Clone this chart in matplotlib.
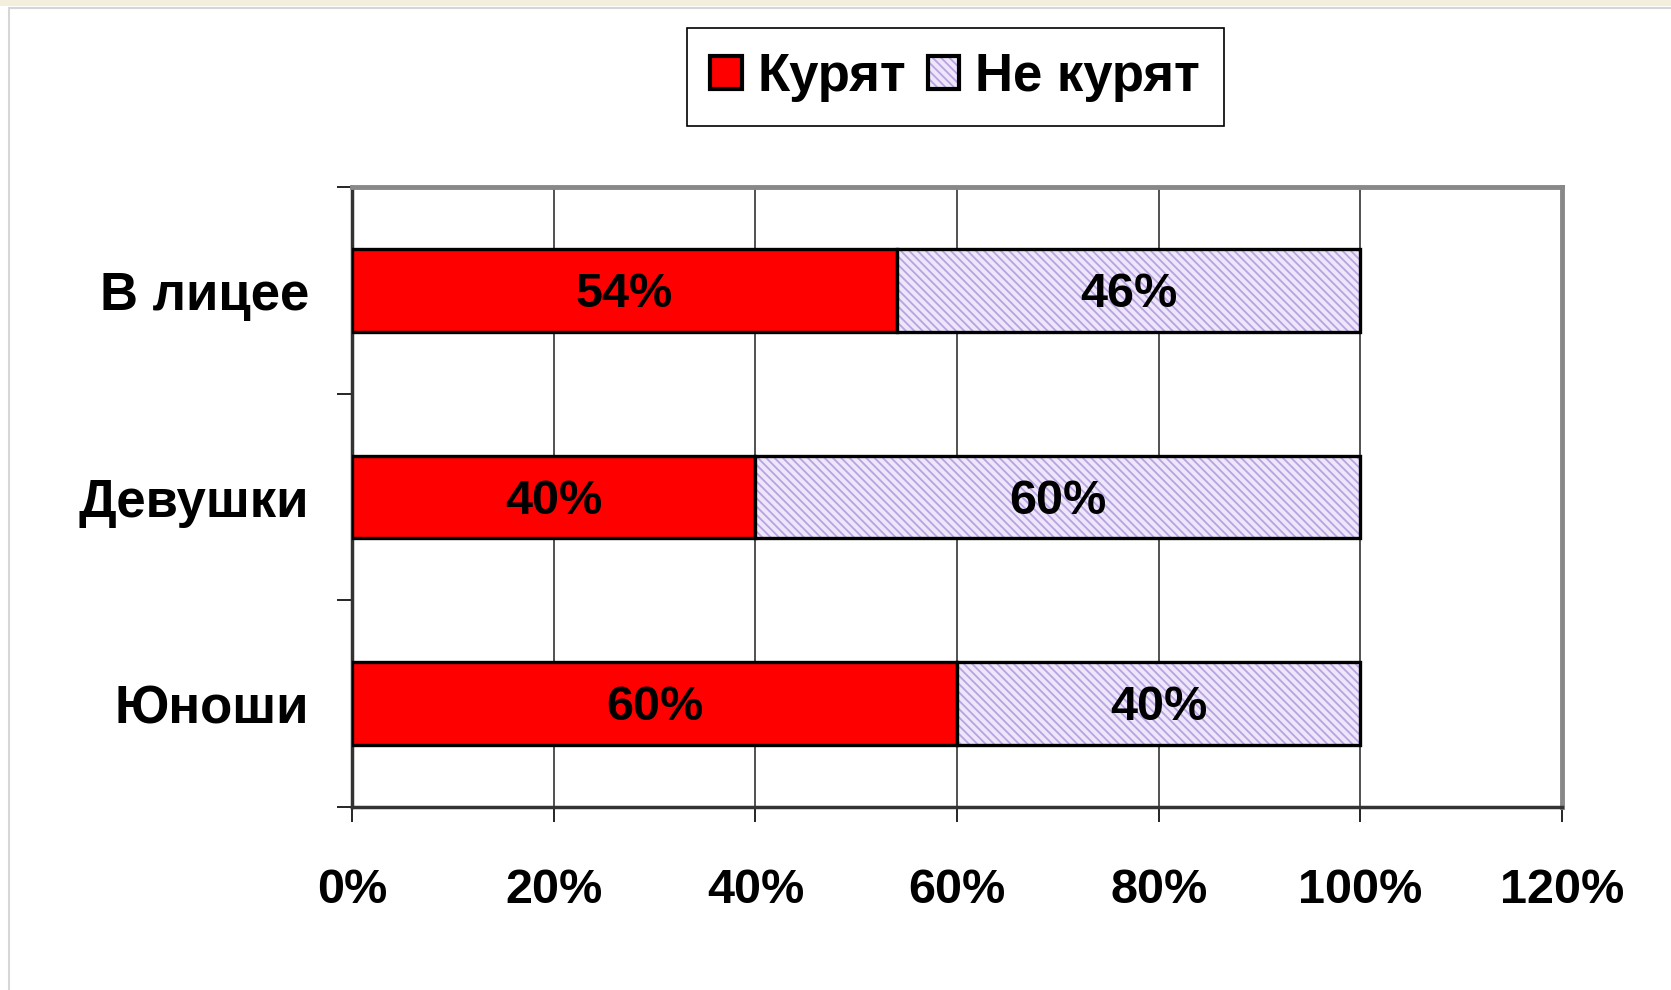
import numpy as np
import matplotlib
matplotlib.use("Agg")
import matplotlib.pyplot as plt
from matplotlib.patches import Patch, Rectangle
from matplotlib.legend_handler import HandlerTuple
from matplotlib.ticker import FixedLocator

plt.rcParams["font.family"] = ["Liberation Sans", "DejaVu Sans"]
plt.rcParams["font.weight"] = "bold"
plt.rcParams["hatch.linewidth"] = 1.3

# --- данные ---
categories = ["Юноши", "Девушки", "В лицее"]
smoke = [60, 40, 54]
no_smoke = [40, 60, 46]
x_ticks = [0, 20, 40, 60, 80, 100, 120]
series_names = ["Курят", "Не курят"]

red = "#FF0000"
lilac = "#EEE6FA"
lilac_hatch = "#B8A2E0"

fig = plt.figure(figsize=(16.71, 9.9), dpi=100)
ax = fig.add_axes([0.2107, 0.1848, 0.7241, 0.6263])

y = np.arange(len(categories))
h = 0.40

b1 = ax.barh(y, smoke, h, color=red, edgecolor="black", linewidth=2.4, zorder=3)
b2 = ax.barh(y, no_smoke, h, left=smoke, color=lilac, edgecolor=lilac_hatch,
             hatch="\\\\\\\\", linewidth=0, zorder=3)
b3 = ax.barh(y, no_smoke, h, left=smoke, facecolor="none", edgecolor="black",
             linewidth=2.4, zorder=4)

# подписи значений
for i in range(len(categories)):
    ax.annotate(f"{smoke[i]}%", (smoke[i] / 2, y[i]), xytext=(0, -3),
                textcoords="offset points", ha="center", va="center",
                fontsize=35, fontweight="bold", zorder=5)
    ax.annotate(f"{no_smoke[i]}%", (smoke[i] + no_smoke[i] / 2, y[i]),
                xytext=(0, -3), textcoords="offset points", ha="center",
                va="center", fontsize=35, fontweight="bold", zorder=5)

ax.set_xlim(0, 120)
ax.set_ylim(-0.5, len(categories) - 0.5)
ax.set_xticks(x_ticks)
ax.set_xticklabels([f"{t}%" for t in x_ticks], fontsize=35, fontweight="bold")
ax.set_yticks(y)
ax.set_yticklabels(categories, fontsize=38, fontweight="bold")
ax.yaxis.set_minor_locator(FixedLocator(np.arange(-0.5, len(categories), 1.0)))
ax.tick_params(axis="y", which="major", length=0, pad=31)
ax.tick_params(axis="y", which="minor", length=11, width=1.2, color="black")
ax.tick_params(axis="x", which="major", length=11, width=1.2, pad=33)

ax.xaxis.grid(True, color="#333333", linewidth=1.2, zorder=0)
ax.set_axisbelow(True)

for s in ["top", "right"]:
    ax.spines[s].set_color("#888888")
    ax.spines[s].set_linewidth(3.5)
for s in ["left", "bottom"]:
    ax.spines[s].set_color("#333333")
    ax.spines[s].set_linewidth(2.5)

# легенда
h1 = Patch(facecolor=red, edgecolor="black", linewidth=3)
h2a = Patch(facecolor=lilac, edgecolor=lilac_hatch, hatch="\\\\\\\\", linewidth=0)
h2b = Patch(facecolor="none", edgecolor="black", linewidth=3)
leg = fig.legend([h1, (h2a, h2b)], series_names, loc="center",
                 bbox_to_anchor=(0.5716, 0.922), ncol=2,
                 prop={"weight": "bold", "size": 38},
                 handler_map={tuple: HandlerTuple(ndivide=1)},
                 handlelength=0.6, handleheight=0.6, handletextpad=0.3,
                 columnspacing=0.4, borderpad=0.45, borderaxespad=0,
                 fancybox=False, edgecolor="black", framealpha=1)
leg.get_frame().set_linewidth(1.2)

# рамка слайда
fig.patches.append(Rectangle((0, 0.994), 1, 0.006, transform=fig.transFigure,
                             facecolor="#F4EFDC", edgecolor="none"))
fig.patches.append(Rectangle((0.0054, -0.01), 1.1, 1.002, transform=fig.transFigure,
                             facecolor="none", edgecolor="#D6D6D6", linewidth=1.5))

fig.savefig("out.png", dpi=100)
